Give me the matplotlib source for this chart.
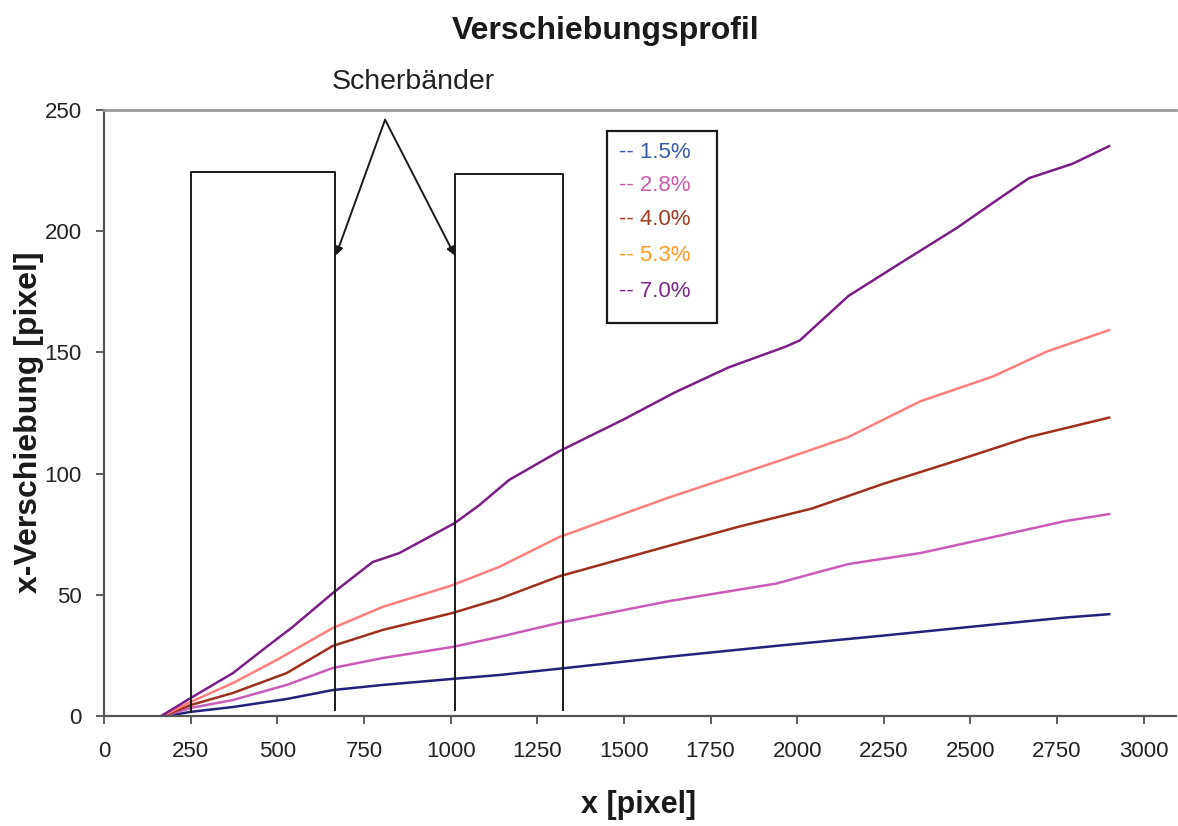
import matplotlib
matplotlib.use("Agg")
import matplotlib.pyplot as plt
from matplotlib.patches import Rectangle

plt.rcParams['font.family'] = ['Liberation Sans', 'DejaVu Sans']

# displacement profiles, x position [pixel] -> x displacement [pixel]
x_15 = [181, 250, 372, 527, 660, 804, 1006, 1140, 1313, 1627, 1938, 2251, 2565, 2773, 2900]
y_15 = [0, 1.7, 3.7, 7, 10.7, 12.8, 15.3, 16.9, 19.5, 24.4, 28.9, 33.2, 37.7, 40.6, 42]

x_28 = [172, 250, 372, 527, 660, 804, 1006, 1140, 1313, 1627, 1938, 2148, 2355, 2565, 2773, 2900]
y_28 = [0, 3.3, 6.6, 12.8, 19.8, 23.9, 28.5, 32.6, 38.4, 47.3, 54.6, 62.7, 67.2, 73.8, 80.4, 83.3]

x_40 = [170, 250, 372, 527, 660, 804, 1006, 1140, 1313, 1627, 1834, 2043, 2251, 2461, 2669, 2900]
y_40 = [0, 4.5, 9.5, 17.7, 28.9, 35.5, 42.5, 48.3, 57.6, 70.1, 78.2, 85.6, 95.9, 105.4, 115.1, 123.1]

x_53 = [168, 250, 372, 498, 660, 804, 1006, 1140, 1313, 1627, 1938, 2148, 2355, 2565, 2721, 2900]
y_53 = [0, 5.8, 13.6, 23.1, 36.3, 45, 54, 61.5, 73.8, 90, 104.8, 115.1, 129.8, 140.1, 150.4, 159.2]

x_70 = [165, 250, 372, 469, 544, 660, 775, 852, 1012, 1083, 1169, 1313, 1500, 1647, 1802,
        1969, 2008, 2148, 2303, 2460, 2585, 2669, 2794, 2900]
y_70 = [0, 7.4, 17.7, 28.5, 36.7, 50.7, 63.5, 67.2, 79.6, 87, 97.4, 109.2, 122.4, 133.5, 143.8,
        152.5, 155, 173.3, 187.3, 201.3, 213.7, 221.9, 227.8, 235.1]

labels = ['1.5%', '2.8%', '4.0%', '5.3%', '7.0%']
line_colors = ['#22227a', '#c95cb6', '#a0301e', '#ff7f7f', '#7a1f84']
text_colors = ['#3a5aaa', '#cc5aaa', '#a03a22', '#ff9a22', '#7a2888']

# shear band boxes and arrows
band1_x = [250, 250, 666, 666]
band1_y = [1.5, 224.4, 224.4, 2.5]
band2_x = [1012, 1012, 1324, 1324]
band2_y = [2.5, 223.6, 223.6, 2.5]
arrow_from = (811, 246)
arrow_tips = [(669, 190), (1012, 190)]

fig = plt.figure(figsize=(11.78, 8.26), dpi=100)
ax = fig.add_axes([0.0883, 0.1332, 0.9097, 0.7336])

series = [(x_15, y_15), (x_28, y_28), (x_40, y_40), (x_53, y_53), (x_70, y_70)]
for (xs, ys), c in zip(series, line_colors):
    ax.plot(xs, ys, color=c, lw=1.8)

ax.plot(band1_x, band1_y, color='#1a1a1a', lw=1.4)
ax.plot(band2_x, band2_y, color='#1a1a1a', lw=1.4)
for tip in arrow_tips:
    ax.annotate('', xy=tip, xytext=arrow_from,
                arrowprops=dict(arrowstyle='-|>', color='#1a1a1a', lw=1.4,
                                mutation_scale=12, shrinkA=0, shrinkB=0))
ax.text(891, 261.5, 'Scherbänder', ha='center', va='center', fontsize=20.5,
        color='#222222', clip_on=False)

ax.set_xlim(0, 3092)
ax.set_ylim(0, 250)
ax.set_xticks(range(0, 3001, 250))
ax.set_yticks(range(0, 251, 50))
ax.tick_params(axis='both', labelsize=16, colors='#444444', labelcolor='#222222',
               length=6, width=1.2, direction='out')
ax.tick_params(axis='x', pad=12)
ax.tick_params(axis='y', pad=10)

ax.spines['right'].set_visible(False)
ax.spines['top'].set_color('#999999')
ax.spines['top'].set_linewidth(2)
ax.spines['left'].set_color('#555555')
ax.spines['left'].set_linewidth(1.6)
ax.spines['bottom'].set_color('#555555')
ax.spines['bottom'].set_linewidth(1.6)

# text legend in a framed box
ax.add_patch(Rectangle((0.469, 0.6485), 0.103, 0.3165, transform=ax.transAxes,
                       fill=False, edgecolor='#1a1a1a', lw=1.6))
legend_y = [0.9307, 0.876, 0.820, 0.7607, 0.7013]
for lab, c, yy in zip(labels, text_colors, legend_y):
    ax.text(0.481, yy, '-- ' + lab, transform=ax.transAxes, fontsize=16,
            color=c, va='center', ha='left')

fig.text(0.5144, 0.963, 'Verschiebungsprofil', ha='center', va='center',
         fontsize=23, fontweight='bold', color='#1a1a1a')
fig.text(0.5424, 0.025, 'x [pixel]', ha='center', va='center',
         fontsize=22, fontweight='bold', color='#1a1a1a')
fig.text(0.025, 0.489, 'x-Verschiebung [pixel]', ha='center', va='center',
         rotation=90, fontsize=23, fontweight='bold', color='#1a1a1a')

fig.savefig('out.png', dpi=100)
